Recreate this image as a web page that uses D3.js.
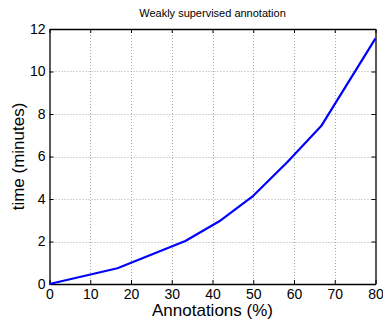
<!DOCTYPE html>
<html>
<head>
<meta charset="utf-8">
<script src="https://cdn.jsdelivr.net/npm/d3@7"></script>
<style>
  body { margin: 0; background: #fff; }
  text { font-family: "Liberation Sans", Arial, sans-serif; fill: #000; }
</style>
</head>
<body>
<script>
// values
var annotations = [0, 16.67, 33.33, 41.67, 50, 58.33, 66.67, 80],
	minutes = [0, 0.74, 2.02, 2.95, 4.15, 5.73, 7.43, 11.56],
	xTicks = [0, 10, 20, 30, 40, 50, 60, 70, 80],
	yTicks = [0, 2, 4, 6, 8, 10, 12];

var width = 383, height = 321,
	plotLeft = 49.5, plotRight = 375.5, plotTop = 29, plotBottom = 284;

var svg = d3.select('body').append('svg')
	.attr('width', width)
	.attr('height', height);

var x = d3.scaleLinear().domain([0, 80]).range([plotLeft, plotRight]),
	y = d3.scaleLinear().domain([0, 12]).range([plotBottom, plotTop]);

// dotted grid
svg.append('g').selectAll('line')
	.data(xTicks.slice(1, -1))
	.enter().append('line')
	.attr('x1', function(d) { return Math.round(x(d)) + 0.5; })
	.attr('x2', function(d) { return Math.round(x(d)) + 0.5; })
	.attr('y1', plotTop)
	.attr('y2', plotBottom)
	.attr('stroke', '#aaa')
	.attr('stroke-dasharray', '1,2');

svg.append('g').selectAll('line')
	.data(yTicks.slice(1, -1))
	.enter().append('line')
	.attr('y1', function(d) { return Math.round(y(d)) + 0.5; })
	.attr('y2', function(d) { return Math.round(y(d)) + 0.5; })
	.attr('x1', plotLeft)
	.attr('x2', plotRight)
	.attr('stroke', '#aaa')
	.attr('stroke-dasharray', '1,2');

// axes, ticks drawn inward like matlab
svg.append('g')
	.attr('transform', 'translate(0,' + plotBottom + ')')
	.call(d3.axisBottom(x).tickValues(xTicks).tickSizeInner(-4).tickSizeOuter(0).tickPadding(5));
svg.append('g')
	.attr('transform', 'translate(' + plotLeft + ',0)')
	.call(d3.axisLeft(y).tickValues(yTicks).tickSizeInner(-4).tickSizeOuter(0).tickPadding(4));
svg.append('g')
	.attr('transform', 'translate(0,' + plotTop + ')')
	.call(d3.axisTop(x).tickValues(xTicks).tickSizeInner(-4).tickSizeOuter(0).tickFormat(''));
svg.append('g')
	.attr('transform', 'translate(' + plotRight + ',0)')
	.call(d3.axisRight(y).tickValues(yTicks).tickSizeInner(-4).tickSizeOuter(0).tickFormat(''));

svg.selectAll('.domain').attr('stroke', '#000').attr('stroke-width', 1.3);
svg.selectAll('.tick line').attr('stroke', '#000');
svg.selectAll('.tick text')
	.attr('font-size', 14)
	.attr('font-family', '"Liberation Sans", Arial, sans-serif');

// the data line
var line = d3.line()
	.x(function(d, i) { return x(annotations[i]); })
	.y(function(d) { return y(d); });

svg.append('path')
	.datum(minutes)
	.attr('d', line)
	.attr('fill', 'none')
	.attr('stroke', '#0000ff')
	.attr('stroke-width', 2.2)
	.attr('stroke-linejoin', 'round');

// labels
svg.append('text')
	.text('Weakly supervised annotation')
	.attr('x', (plotLeft + plotRight) / 2)
	.attr('y', 17)
	.attr('text-anchor', 'middle')
	.attr('font-size', 11);

svg.append('text')
	.text('Annotations (%)')
	.attr('x', (plotLeft + plotRight) / 2)
	.attr('y', 316)
	.attr('text-anchor', 'middle')
	.attr('font-size', 17);

svg.append('text')
	.text('time (minutes)')
	.attr('transform', 'translate(24,' + (plotTop + plotBottom) / 2 + ') rotate(-90)')
	.attr('text-anchor', 'middle')
	.attr('font-size', 17);
</script>
</body>
</html>
